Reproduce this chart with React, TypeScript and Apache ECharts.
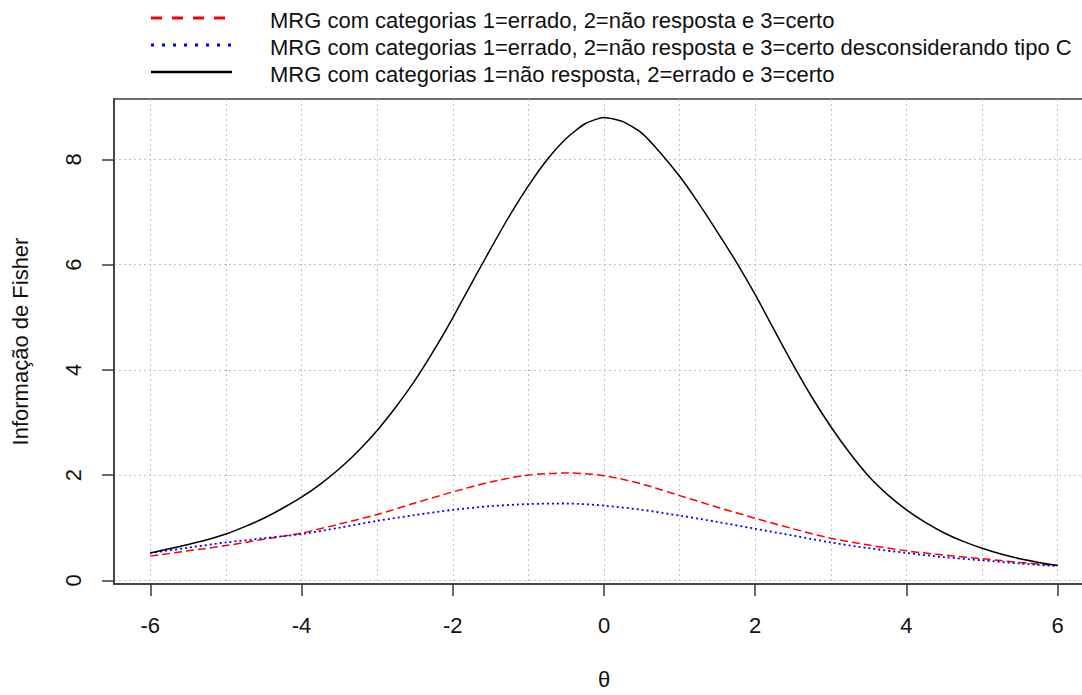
import React, { useEffect, useRef } from "react";
import * as echarts from "echarts";

// θ values for the two lower curves (step 0.5) and the black curve (step 0.25)
const thetaCoarse = [-6, -5.5, -5, -4.5, -4, -3.5, -3, -2.5, -2, -1.5, -1, -0.5, 0, 0.5, 1, 1.5, 2, 2.5, 3, 3.5, 4, 4.5, 5, 5.5, 6];
const thetaFine = [
  -6, -5.75, -5.5, -5.25, -5, -4.75, -4.5, -4.25, -4, -3.75, -3.5, -3.25, -3, -2.75, -2.5, -2.25, -2, -1.75, -1.5, -1.25, -1, -0.75, -0.5, -0.25,
  0, 0.25, 0.5, 0.75, 1, 1.25, 1.5, 1.75, 2, 2.25, 2.5, 2.75, 3, 3.25, 3.5, 3.75, 4, 4.25, 4.5, 4.75, 5, 5.25, 5.5, 5.75, 6,
];

const seriesNames = [
  "MRG com categorias 1=errado, 2=não resposta e 3=certo",
  "MRG com categorias 1=errado, 2=não resposta e 3=certo desconsiderando tipo C",
  "MRG com categorias 1=não resposta, 2=errado e 3=certo",
];

const redValues = [0.46, 0.56, 0.66, 0.78, 0.9, 1.07, 1.25, 1.47, 1.68, 1.87, 2.0, 2.04, 1.99, 1.83, 1.61, 1.39, 1.18, 0.98, 0.8, 0.67, 0.56, 0.48, 0.41, 0.34, 0.28];
const blueValues = [0.52, 0.62, 0.72, 0.8, 0.88, 1.0, 1.13, 1.24, 1.34, 1.41, 1.45, 1.46, 1.42, 1.34, 1.23, 1.11, 0.98, 0.85, 0.72, 0.61, 0.52, 0.44, 0.38, 0.32, 0.27];
const blackValues = [
  0.52, 0.6, 0.68, 0.77, 0.88, 1.02, 1.18, 1.37, 1.58, 1.83, 2.12, 2.46, 2.85, 3.3, 3.8, 4.37, 4.99, 5.65, 6.3, 6.93, 7.5, 8.0, 8.4, 8.68,
  8.8, 8.72, 8.5, 8.12, 7.68, 7.17, 6.62, 6.05, 5.43, 4.76, 4.1, 3.48, 2.92, 2.42, 1.98, 1.63, 1.34, 1.1, 0.9, 0.74, 0.61, 0.5, 0.41, 0.34, 0.28,
];

const xTickLabels = [-6, -4, -2, 0, 2, 4, 6];
const xGridValues = [-6, -5, -4, -3, -2, -1, 0, 1, 2, 3, 4, 5, 6];
const yTickLabels = [0, 2, 4, 6, 8];

const xAxisTitle = "θ";
const yAxisTitle = "Informação de Fisher";

const FONT = "'Liberation Sans', Arial, sans-serif";
const AXIS_COLOR = "#3a3a3a";
const GRID_COLOR = "#c0c0c0";
const TEXT_COLOR = "#111111";

const colors = ["#ff0000", "#0000ff", "#000000"];
const plotDash: any[] = [[8, 4], [2, 3], "solid"];
const legendDash: any[] = [[11, 10], [3, 8], null];
const legendY = [18, 45, 72];

export default function App() {
  const ref = useRef<HTMLDivElement>(null);

  useEffect(() => {
    if (!ref.current) return;
    const chart = echarts.init(ref.current, null, { renderer: "svg" });

    const makeData = (xs: number[], vals: number[]) => xs.map((t, i) => [t, vals[i]]);
    const allData = [
      makeData(thetaCoarse, redValues),
      makeData(thetaCoarse, blueValues),
      makeData(thetaFine, blackValues),
    ];
    const smoothness = [0.3, 0.3, 0.2];
    const drawOrder = [2, 0, 1];

    const series = drawOrder.map((k) => ({
      name: seriesNames[k],
      type: "line",
      xAxisIndex: 0,
      yAxisIndex: 0,
      data: allData[k],
      showSymbol: false,
      symbol: "none",
      smooth: smoothness[k],
      clip: true,
      lineStyle: { color: colors[k], width: k === 1 ? 1.8 : 1.5, type: plotDash[k] },
      z: 3 + k,
    }));

    const graphic: any[] = [];
    seriesNames.forEach((name, i) => {
      graphic.push({
        type: "line",
        shape: { x1: 151, y1: legendY[i], x2: 232, y2: legendY[i] },
        style: { stroke: colors[i], lineWidth: i === 2 ? 2.6 : 2.8, lineDash: legendDash[i] },
      });
      graphic.push({
        type: "text",
        x: 270,
        y: legendY[i] + 2,
        style: { text: name, font: `22px ${FONT}`, fill: TEXT_COLOR, align: "left", verticalAlign: "middle" },
      });
    });

    chart.setOption({
      animation: false,
      backgroundColor: "#ffffff",
      textStyle: { fontFamily: FONT },
      grid: {
        left: 114,
        top: 99,
        width: 980,
        height: 486,
        show: true,
        borderColor: AXIS_COLOR,
        borderWidth: 1.5,
        containLabel: false,
      },
      xAxis: [
        {
          type: "value",
          min: -6.48,
          max: 6.48,
          position: "bottom",
          axisLine: { show: true, onZero: false, lineStyle: { color: AXIS_COLOR, width: 1.5 } },
          axisTick: { show: true, inside: false, length: 12, customValues: xTickLabels, lineStyle: { color: AXIS_COLOR, width: 1.5 } },
          axisLabel: { show: true, customValues: xTickLabels, margin: 30, fontSize: 22, color: TEXT_COLOR, fontFamily: FONT },
          splitLine: { show: false },
          name: xAxisTitle,
          nameLocation: "middle",
          nameGap: 84,
          nameTextStyle: { fontSize: 22, color: TEXT_COLOR, fontFamily: FONT },
        },
        {
          type: "value",
          min: -6.48,
          max: 6.48,
          position: "top",
          axisLine: { show: false, onZero: false },
          axisTick: { show: false, customValues: xGridValues },
          axisLabel: { show: false, customValues: xGridValues },
          splitLine: { show: true, lineStyle: { color: GRID_COLOR, type: [2, 3], width: 1 } },
        },
      ],
      yAxis: {
        type: "value",
        min: -0.07,
        max: 9.15,
        axisLine: { show: true, onZero: false, lineStyle: { color: AXIS_COLOR, width: 1.5 } },
        axisTick: { show: true, inside: false, length: 12, customValues: yTickLabels, lineStyle: { color: AXIS_COLOR, width: 1.5 } },
        axisLabel: { show: true, customValues: yTickLabels, rotate: 90, margin: 30, fontSize: 22, color: TEXT_COLOR, fontFamily: FONT },
        splitLine: { show: true, lineStyle: { color: GRID_COLOR, type: [2, 3], width: 1 } },
        name: yAxisTitle,
        nameLocation: "middle",
        nameGap: 83,
        nameRotate: 90,
        nameTextStyle: { fontSize: 22, color: TEXT_COLOR, fontFamily: FONT },
      },
      graphic,
      series,
    });

    return () => {
      chart.dispose();
    };
  }, []);

  return (
    <div
      style={{ position: "absolute", left: 0, top: 0, width: 1082, height: 695, overflow: "hidden", background: "#ffffff" }}
    >
      <div ref={ref} style={{ width: 1110, height: 695 }} />
    </div>
  );
}
